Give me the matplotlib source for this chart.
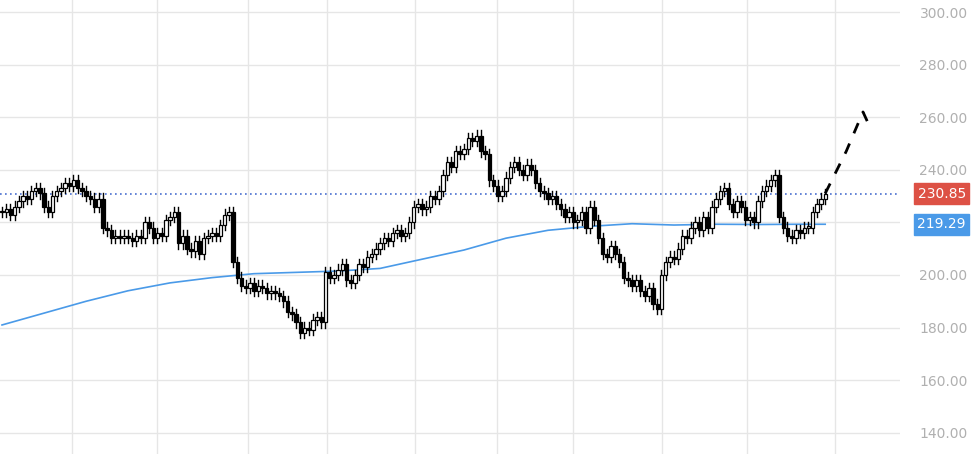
import numpy as np
import matplotlib.pyplot as plt
from matplotlib.patches import Rectangle

# closing prices, one per candle
closes = [224, 225, 223, 226, 228, 230, 229, 232, 233, 231,
          226, 224, 230, 232, 233, 235, 234, 236, 233, 232,
          230, 229, 226, 229, 218, 217, 214, 215, 214, 215,
          214, 213, 215, 214, 220, 218, 214, 216, 215, 221,
          222, 224, 212, 215, 210, 209, 213, 208, 214, 215,
          216, 215, 219, 223, 224, 205, 199, 196, 195, 197,
          194, 196, 195, 193, 194, 193, 192, 190, 186, 185,
          182, 178, 180, 179, 183, 184, 182, 201, 199, 200,
          202, 204, 198, 197, 200, 204, 203, 207, 208, 210,
          212, 214, 213, 216, 217, 215, 216, 220, 226, 227,
          225, 226, 230, 229, 232, 238, 243, 241, 247, 246,
          248, 252, 251, 253, 247, 246, 236, 234, 230, 232,
          237, 241, 243, 240, 238, 242, 240, 235, 232, 231,
          229, 230, 227, 225, 222, 224, 220, 221, 224, 218,
          226, 221, 214, 208, 207, 211, 208, 205, 199, 198,
          196, 198, 194, 192, 195, 189, 187, 200, 205, 207,
          206, 210, 215, 214, 218, 220, 217, 222, 218, 226,
          229, 232, 233, 227, 224, 228, 226, 221, 222, 220,
          228, 232, 234, 236, 238, 222, 218, 215, 214, 217,
          216, 218, 218, 224, 227, 229, 230.85]

ma_idx = [0, 10, 20, 30, 40, 50, 60, 70, 80, 90, 100, 110, 120, 130, 140,
          150, 160, 170, 180, 190, 196]
ma_val = [181, 185.5, 190, 194, 197, 199, 200.5, 201, 201.5, 202.5, 206,
          209.5, 214, 217, 218.5, 219.5, 219, 219.3, 219.2, 219.3, 219.29]

proj_idx = [196, 201, 205, 207]
proj_val = [231, 247, 262, 255]

last_price = 230.85
ma_last = 219.29

fig = plt.figure(figsize=(9.75, 4.54), dpi=100)
ax = fig.add_axes([0, 0, 900 / 975, 1])
step = 4.2

opens = [closes[0]] + closes[:-1]
for i, (o, c) in enumerate(zip(opens, closes)):
    x = i * step + 2
    lo, hi = min(o, c), max(o, c)
    ax.plot([x, x], [lo - 2, hi + 2], color='black', lw=1, zorder=3)
    h = max(hi - lo, 0.5)
    face = 'white' if c >= o else 'black'
    ax.add_patch(Rectangle((x - 1.7, lo), 3.4, h, facecolor=face,
                           edgecolor='black', lw=0.9, zorder=4))

ax.plot(np.array(ma_idx) * step + 2, ma_val, color='#4a9ae8', lw=1.2, zorder=2)
ax.plot(np.array(proj_idx) * step + 2, proj_val, color='black', lw=2,
        ls=(0, (4, 4)), zorder=5)
ax.axhline(last_price, color='#4a6fd0', lw=1.2, ls=(0, (1, 2)), zorder=1)

ticks = np.arange(140, 301, 20)
ax.set_xlim(0, 900)
ax.set_ylim(300 - 442 / 2.63, 300 + 12 / 2.63)
ax.set_yticks(ticks)
ax.set_xticks([72, 157, 248, 327, 415, 497, 573, 662, 747, 835])
ax.grid(True, color='#e6e6e6', lw=1)
ax.set_axisbelow(True)
ax.tick_params(axis='x', labelbottom=False, length=0)
ax.yaxis.tick_right()
ax.tick_params(axis='y', length=0, pad=14, labelsize=10, labelcolor='#b0b0b0')
# the 220 label sits under the moving-average price tag
ax.set_yticklabels(['' if v == 220 else f'{v:.2f}' for v in ticks])
for s in ax.spines.values():
    s.set_visible(False)

for val, col in [(last_price, '#dd5145'), (ma_last, '#4a9ae8')]:
    ax.annotate(f'{val:.2f}', xy=(1, val), xycoords=('axes fraction', 'data'),
                xytext=(30, 0), textcoords='offset points', ha='center',
                va='center', color='white', fontsize=10,
                bbox=dict(boxstyle='square,pad=0.25', fc=col, ec=col),
                annotation_clip=False)

fig.savefig('out.png')
